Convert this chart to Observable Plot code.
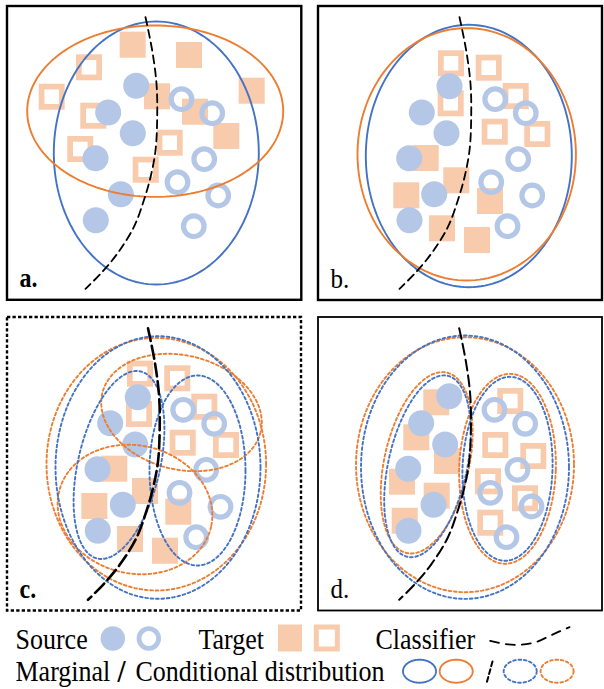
<!DOCTYPE html>
<html><head><meta charset="utf-8">
<script src="https://cdn.jsdelivr.net/npm/d3@7"></script>
<script src="https://cdn.jsdelivr.net/npm/@observablehq/plot@0.6"></script>
<style>body{margin:0;background:#fff}</style>
</head><body><div id="chart"></div>
<script>
// ---------- data (pixel-space positions) ----------
const panels = ["a", "b", "c", "d"];
const panelLabels = {a: "a.", b: "b.", c: "c.", d: "d."};
const panelBounds = {a: [7, 6, 301.3, 299.8], b: [318, 6, 602, 300], c: [7, 317, 301, 610.5], d: [318, 317, 602, 610.5]};

// Source, class 1 (filled circles)
const sourceFilled = {
  a: [[135.7,85.3],[107.7,112],[132.3,132.7],[95,157.7],[120.3,193.7],[95.3,219.7]],
  b: [[449,85.7],[421.3,112],[446,132.7],[408.7,157.7],[433.7,193.7],[409,219.7]],
  c: [[137.3,396.7],[109.7,422.7],[134.7,444],[97,468.7],[122.3,504.3],[97.3,530.3]],
  d: [[448.7,395.7],[420.7,422.7],[444.7,444],[407.7,468.3],[433,504.3],[408,530.3]]
};
// Source, class 2 (hollow circles)
const sourceHollow = {
  a: [[181,98.7],[211.7,112.7],[203.7,158.7],[177,181.7],[217.7,195],[193.3,225.7]],
  b: [[494.7,98.7],[525.3,112.7],[517.7,158.7],[490.7,181.7],[531.7,195],[507,225.7]],
  c: [[182.7,409.3],[213.7,423.3],[205.7,469.3],[179,492.3],[220,506.3],[195.7,536.7]],
  d: [[494,409.3],[524.7,423.3],[517,469.3],[489.7,492.3],[531,506],[506,536.7]]
};
// Target, class 1 (filled squares)
const targetFilled = {
  a: [[132.7,44.7],[189,55],[251.7,90.7],[157,96.3],[195,111.7],[226.3,136]],
  b: [[425.7,158],[456.3,180.3],[406.3,195.3],[490,201],[442,228.3],[477,240]],
  c: [[114.3,468.7],[145,491],[94.3,506],[178.3,511.7],[130,539],[165,550.7]],
  d: [[436.3,402.3],[416.3,437.3],[447,461],[402,481.7],[436.7,495.7],[404.7,520.7]]
};
// Target, class 2 (hollow squares)
const targetHollow = {
  a: [[89,67.3],[51.7,96.7],[93.3,115.7],[80.3,149],[169.7,142.7],[145.7,169.7]],
  b: [[451,63.3],[488.7,67.7],[515.7,96],[450.7,103.3],[494.7,131.7],[537.3,134]],
  c: [[140,373.7],[177.3,378.3],[204.3,406.7],[139,414],[182.7,442.7],[226,445]],
  d: [[510.3,401],[495.3,445],[533.3,456],[488,481.3],[525,498.3],[490.3,522.7]]
};
// distributions: [cx, cy, rx, ry, tiltDeg]
const marginalSource = {a: [155.8,152.5,102.5,131.5,0], b: [468.3,155.5,103,131.2,0], c: [157.5,467,102.5,131.3,0], d: [464.5,466.7,104,131.7,0]};
const marginalTarget = {a: [154.7,110.7,128,85.7,0], b: [466.2,153.8,109.2,126.2,0], c: [155.8,463.7,109.8,126.3,0], d: [464.5,464.2,109,127.5,0]};
const conditionalSource = {c: [[118.5,464.5,41,96,13],[197,470,48,95,0]], d: [[427,465.8,39.3,92.7,12.5],[507,468.3,45,92,2]]};
const conditionalTarget = {c: [[181,412,81.5,57,14],[134.5,509,78,64,13]], d: [[426.2,462.3,42.4,92.4,12.5],[507,468.3,48.3,95,2]]};
// classifier boundary (panel a) and its placement in each panel
const classifier = [[145,16.7],[151.7,50],[156,83.3],[156.7,116.7],[155,150],[150,176.7],[143.3,200],[133.3,226.7],[116.7,253.3],[100,273.3],[85,288.3]];
const classifierShift = {a: [0,0], b: [314,0], c: [2.5,311], d: [313.7,311]};

// legend
const legendTexts = [
  {x: 15, y: 648, t: "Source"},
  {x: 198, y: 648, t: "Target"},
  {x: 375, y: 648, t: "Classifier"},
  {x: 15, y: 680, t: "Marginal"},
  {x: 135, y: 680, t: "Conditional distribution"}
];
const legendSlashText = [{x: 117, y: 681, t: "/"}];
const legendSourceFilled = [[112.3, 638]];
const legendSourceHollow = [[148.3, 638]];
const legendTargetFilled = [[290, 638]];
const legendTargetHollow = [[326.8, 638]];
const legendClassifier = [[489.7,640.3],[505,643.5],[520,644.3],[535,641.7],[548,636],[560,630.5],[569,626.7]];
const legendSlash = [[492,661],[486,683]];
const legendSolid = [[419,670.7,16.5,11.5,0,"blue"],[455.7,670.7,16.5,11.5,0,"orange"]];
const legendDotted = [[519.7,670.7,16.5,11.5,0,"blue"],[556.6,670.7,16.5,11.5,0,"orange"]];

// ---------- helpers ----------
const BLUE = "#4472c4", ORANGE = "#ed7d31", LBLUE = "#b4c7e7", LORANGE = "#f8cbad";
const pts = (obj) => panels.flatMap(p => (obj[p] || []).map(([x, y]) => ({p, x, y})));
function ellipse(e, id) {
  const [cx, cy, rx, ry, deg] = e, f = deg * Math.PI / 180, N = 160, out = [];
  for (let i = 0; i < N; i++) {
    const t = 2 * Math.PI * i / N, ux = rx * Math.cos(t), uy = ry * Math.sin(t);
    out.push({id, x: cx + ux * Math.cos(f) - uy * Math.sin(f), y: cy + ux * Math.sin(f) + uy * Math.cos(f)});
  }
  return out;
}
const solidBlue = [], solidOrange = [], dotBlue = [], dotOrange = [];
panels.forEach(p => {
  const dotted = p === "c" || p === "d";
  (dotted ? dotBlue : solidBlue).push(...ellipse(marginalSource[p], "ms" + p));
  (dotted ? dotOrange : solidOrange).push(...ellipse(marginalTarget[p], "mt" + p));
  (conditionalSource[p] || []).forEach((e, i) => dotBlue.push(...ellipse(e, "cs" + p + i)));
  (conditionalTarget[p] || []).forEach((e, i) => dotOrange.push(...ellipse(e, "ct" + p + i)));
});
legendSolid.forEach((e, i) => (e[5] === "blue" ? solidBlue : solidOrange).push(...ellipse(e, "ls" + i)));
legendDotted.forEach((e, i) => (e[5] === "blue" ? dotBlue : dotOrange).push(...ellipse(e, "ld" + i)));

const frames = panels.map(p => { const [x1, y1, x2, y2] = panelBounds[p]; return {p, x1, y1, x2, y2}; });
const classifierLine = p => classifier.map(([x, y]) => ({x: x + classifierShift[p][0], y: y + classifierShift[p][1]}));
const classifierStyle = {a: ["8,5", 1.8], b: ["8,5", 1.8], c: ["13,5", 2.6], d: ["11,5", 2]};
const labels = panels.map(p => ({p, x: p === "a" || p === "c" ? 19 : 330, y: panelBounds[p][3] - 13, t: panelLabels[p]}));

const sq = (h) => ({x1: d => d.x - h, x2: d => d.x + h, y1: d => d.y - h, y2: d => d.y + h});
const lp = a => a.map(([x, y]) => ({x, y}));
const serif = {x: "x", y: "y", text: "t", textAnchor: "start", lineAnchor: "bottom", fontFamily: "Liberation Serif", fill: "black"};

const chart = Plot.plot({
  width: 604, height: 689, margin: 0,
  x: {domain: [0, 604], range: [0, 604], axis: null},
  y: {domain: [0, 689], range: [0, 689], axis: null},
  style: {background: "#fff"},
  marks: [
    Plot.rect(frames.filter(f => f.p === "a" || f.p === "b"), {x1: "x1", x2: "x2", y1: "y1", y2: "y2", fill: "none", stroke: "black", strokeWidth: 2.4}),
    Plot.rect(frames.filter(f => f.p === "d"), {x1: "x1", x2: "x2", y1: "y1", y2: "y2", fill: "none", stroke: "black", strokeWidth: 1.8}),
    Plot.rect(frames.filter(f => f.p === "c"), {x1: "x1", x2: "x2", y1: "y1", y2: "y2", fill: "none", stroke: "black", strokeWidth: 2.4, strokeDasharray: "3.3,2.2"}),
    // target squares
    Plot.rect(pts(targetFilled), {...sq(13), fill: LORANGE}),
    Plot.rect(pts(targetHollow), {...sq(10.15), fill: "none", stroke: LORANGE, strokeWidth: 5.7}),
    Plot.rect(lp(legendTargetFilled), {x1: d => d.x - 12, x2: d => d.x + 12, y1: d => d.y - 13.5, y2: d => d.y + 13.5, fill: LORANGE}),
    Plot.rect(lp(legendTargetHollow), {x1: d => d.x - 10.5, x2: d => d.x + 10.5, y1: d => d.y - 11, y2: d => d.y + 11, fill: "none", stroke: LORANGE, strokeWidth: 5}),
    // source circles
    Plot.dot(pts(sourceFilled), {x: "x", y: "y", r: 13, fill: LBLUE}),
    Plot.dot(pts(sourceHollow), {x: "x", y: "y", r: 10.3, fill: "none", stroke: LBLUE, strokeWidth: 5.2}),
    Plot.dot(lp(legendSourceFilled), {x: "x", y: "y", r: 12.2, fill: LBLUE}),
    Plot.dot(lp(legendSourceHollow), {x: "x", y: "y", r: 9.8, fill: "none", stroke: LBLUE, strokeWidth: 4.8}),
    // distributions
    Plot.line(solidBlue, {x: "x", y: "y", z: "id", curve: "linear-closed", stroke: BLUE, strokeWidth: 1.9}),
    Plot.line(solidOrange, {x: "x", y: "y", z: "id", curve: "linear-closed", stroke: ORANGE, strokeWidth: 1.9}),
    Plot.line(dotOrange, {x: "x", y: "y", z: "id", curve: "linear-closed", stroke: ORANGE, strokeWidth: 1.9, strokeDasharray: "2.7,2.7"}),
    Plot.line(dotBlue, {x: "x", y: "y", z: "id", curve: "linear-closed", stroke: BLUE, strokeWidth: 1.9, strokeDasharray: "2.7,2.7"}),
    // classifiers
    ...panels.map(p => Plot.line(classifierLine(p), {x: "x", y: "y", curve: "catmull-rom", stroke: "black", strokeWidth: classifierStyle[p][1], strokeDasharray: classifierStyle[p][0]})),
    Plot.line(lp(legendClassifier), {x: "x", y: "y", curve: "catmull-rom", stroke: "black", strokeWidth: 1.8, strokeDasharray: "9,7"}),
    Plot.line(lp(legendSlash), {x: "x", y: "y", stroke: "black", strokeWidth: 2, strokeDasharray: "5,3"}),
    // text
    Plot.text(labels.filter(d => d.p === "a" || d.p === "c"), {...serif, fontSize: 24, fontWeight: "bold"}),
    Plot.text(labels.filter(d => d.p === "b" || d.p === "d"), {...serif, fontSize: 25}),
    Plot.text(legendTexts, {...serif, fontSize: 26}),
    Plot.text(legendSlashText, {...serif, fontSize: 29, fontWeight: "bold"})
  ]
});
// glyphs in the reference are slightly taller than Liberation Serif: stretch text about its baseline
d3.select(chart).selectAll("text").each(function() {
  const el = this, tr = el.getAttribute("transform");
  if (tr) el.setAttribute("transform", tr + " scale(1,1.12)");
  else {
    const y = +el.getAttribute("y") || 0;
    el.setAttribute("transform", `translate(0,${y}) scale(1,1.12) translate(0,${-y})`);
  }
});
document.getElementById("chart").appendChild(chart);
</script>
</body></html>
